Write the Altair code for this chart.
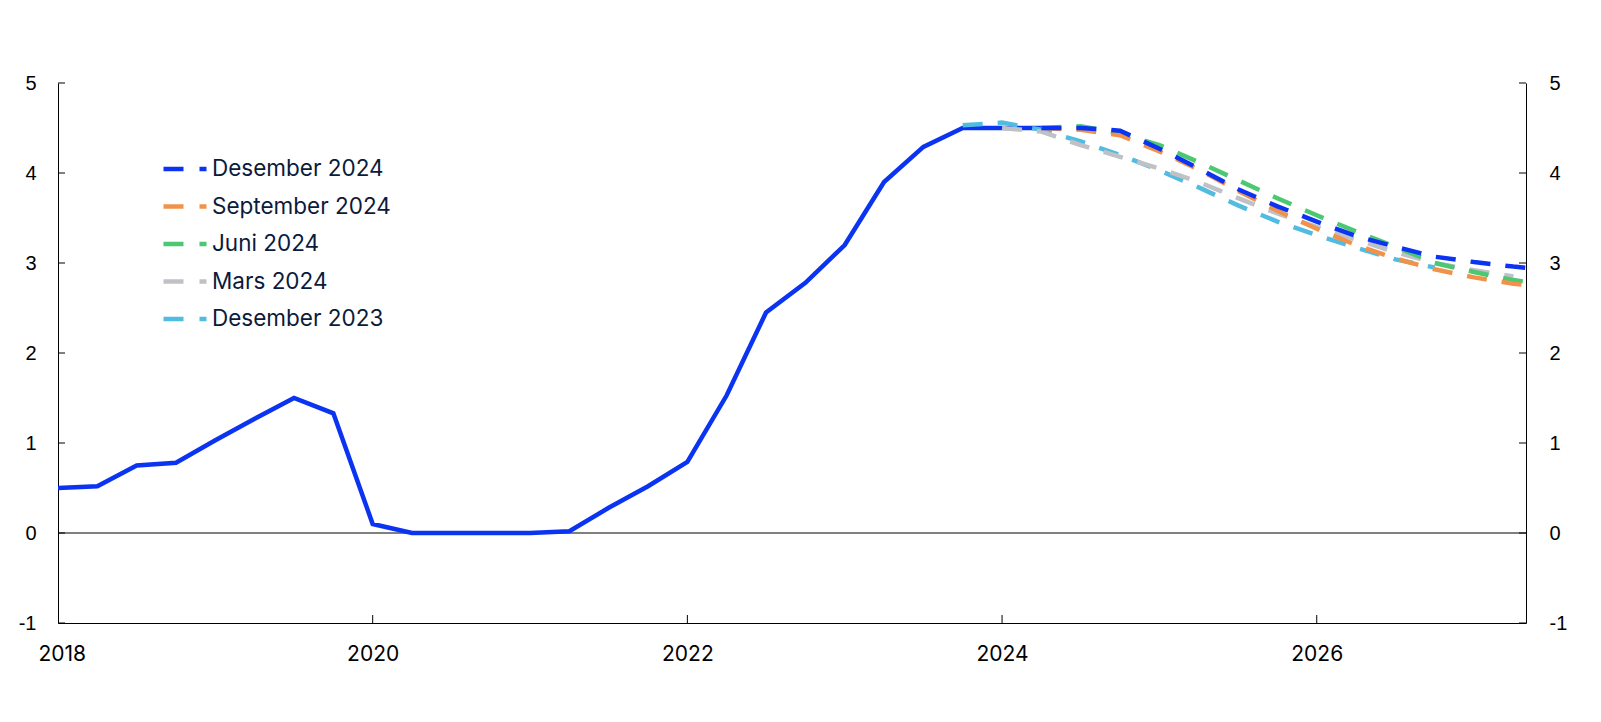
import altair as alt
import pandas as pd

# ---- data ----
hist_start = 2018.0
hist_vals = [0.5, 0.52, 0.75, 0.78,
             1.03, 1.27, 1.5, 1.33,
             0.1, 0.0, 0.0, 0.0,
             0.0, 0.02, 0.28, 0.52,
             0.79, 1.53, 2.45, 2.78,
             3.2, 3.9, 4.29, 4.5,
             4.5, 4.5]

series_names = ["Desember 2024", "September 2024", "Juni 2024", "Mars 2024", "Desember 2023"]
series_colors = ["#0b33f2", "#f0924a", "#4cc873", "#bfc1c7", "#52bce0"]

des23_start = 2023.75
des23_vals = [4.53, 4.56, 4.48, 4.35, 4.2, 4.03, 3.84, 3.64, 3.46, 3.31, 3.17, 3.04, 2.95]
mar24_start = 2024.0
mar24_vals = [4.5, 4.46, 4.31, 4.18, 4.05, 3.9, 3.72, 3.55, 3.4, 3.26, 3.12, 3.0, 2.92, 2.85]
jun24_start = 2024.25
jun24_vals = [4.5, 4.52, 4.44, 4.31, 4.12, 3.92, 3.72, 3.53, 3.35, 3.18, 3.0, 2.9, 2.81, 2.75]
sep24_start = 2024.25
sep24_vals = [4.5, 4.48, 4.42, 4.24, 4.04, 3.8, 3.58, 3.38, 3.2, 3.05, 2.93, 2.84, 2.77, 2.72]
des24_start = 2024.25
des24_vals = [4.5, 4.5, 4.47, 4.27, 4.05, 3.82, 3.63, 3.46, 3.30, 3.18, 3.07, 3.01, 2.96, 2.92]

y_ticks = [-1, 0, 1, 2, 3, 4, 5]
x_ticks = [2018, 2020, 2022, 2024, 2026]
x_inner_ticks = [2020, 2022, 2024, 2026]
x_domain = [2018, 2027.33]
y_domain = [-1, 5]

# ---- tables ----
hist_df = pd.DataFrame({"t": [hist_start + 0.25 * i for i in range(len(hist_vals))],
                        "v": hist_vals})
rows = []
for name, start, vals in [("Desember 2023", des23_start, des23_vals),
                          ("Mars 2024", mar24_start, mar24_vals),
                          ("Juni 2024", jun24_start, jun24_vals),
                          ("September 2024", sep24_start, sep24_vals),
                          ("Desember 2024", des24_start, des24_vals)]:
    for i, v in enumerate(vals):
        rows.append({"serie": name, "t": start + 0.25 * i, "v": v})
fc_df = pd.DataFrame(rows)

W, H = 1468, 540
AX_FONT = "Liberation Sans"
GEO_FONT = "Inter"

xscale = alt.Scale(domain=x_domain, nice=False, zero=False)
yscale = alt.Scale(domain=y_domain, nice=False, zero=False)
xaxis = alt.Axis(values=x_ticks, format="d", title=None, grid=False, ticks=False,
                 domain=True, domainColor="black", domainWidth=1,
                 labelFlush=True, labelFlushOffset=20,
                 labelFont=GEO_FONT, labelFontSize=21, labelColor="black", labelPadding=20)
yaxis_l = alt.Axis(values=y_ticks, title=None, grid=False, ticks=False, orient="left",
                   domain=True, domainColor="black", domainWidth=1,
                   labelExpr="'' + datum.value",
                   labelFont=AX_FONT, labelFontSize=20, labelColor="black", labelPadding=22)
yaxis_r = alt.Axis(values=y_ticks, title=None, grid=False, ticks=False, orient="right",
                   domain=True, domainColor="black", domainWidth=1,
                   labelExpr="'' + datum.value",
                   labelFont=AX_FONT, labelFontSize=20, labelColor="black", labelPadding=23)

X = alt.X("t:Q", scale=xscale, axis=xaxis)
Y = alt.Y("v:Q", scale=yscale, axis=yaxis_l)

zero = alt.Chart(pd.DataFrame({"v": [0]})).mark_rule(color="black", strokeWidth=1).encode(
    y=alt.Y("v:Q", scale=yscale, axis=yaxis_l))

hist = alt.Chart(hist_df).mark_line(color=series_colors[0], strokeWidth=4.5, clip=True).encode(
    x=X, y=Y)

fc = alt.Chart(fc_df).mark_line(strokeWidth=4.5, strokeDash=[20, 15], clip=True).encode(
    x=X, y=Y,
    color=alt.Color("serie:N",
                    scale=alt.Scale(domain=series_names, range=series_colors),
                    legend=alt.Legend(title=None, orient="none", legendX=103, legendY=62,
                                      symbolType="stroke", symbolDash=[20, 16],
                                      symbolStrokeWidth=4.5, symbolSize=1849,
                                      labelFont=GEO_FONT, labelFontSize=22.5, labelColor="#0c1a3b",
                                      labelLimit=0, labelOffset=3, rowPadding=1.5, padding=0)),
    order=alt.Order("serie:N"))

lt = alt.Chart(pd.DataFrame({"v": y_ticks})).mark_rule(color="black", strokeWidth=1).encode(
    y=alt.Y("v:Q", scale=yscale, axis=yaxis_l), x=alt.value(0), x2=alt.value(7))
bt = alt.Chart(pd.DataFrame({"t": x_inner_ticks})).mark_rule(color="black", strokeWidth=1).encode(
    x=X, y=alt.value(H), y2=alt.value(H - 8))

main = alt.layer(zero, hist, fc, lt, bt)

rt = alt.Chart(pd.DataFrame({"v": y_ticks})).mark_rule(color="black", strokeWidth=1).encode(
    y=alt.Y("v:Q", scale=yscale, axis=yaxis_r), x=alt.value(W - 7), x2=alt.value(W))

chart = alt.layer(main, rt).resolve_scale(y="independent").properties(
    width=W, height=H, autosize="none",
    padding={"left": 50, "top": 75, "right": 60, "bottom": 80},
    background="white"
).configure_view(stroke=None)

chart.save("out.html", embed_options={"renderer": "svg", "actions": False})
